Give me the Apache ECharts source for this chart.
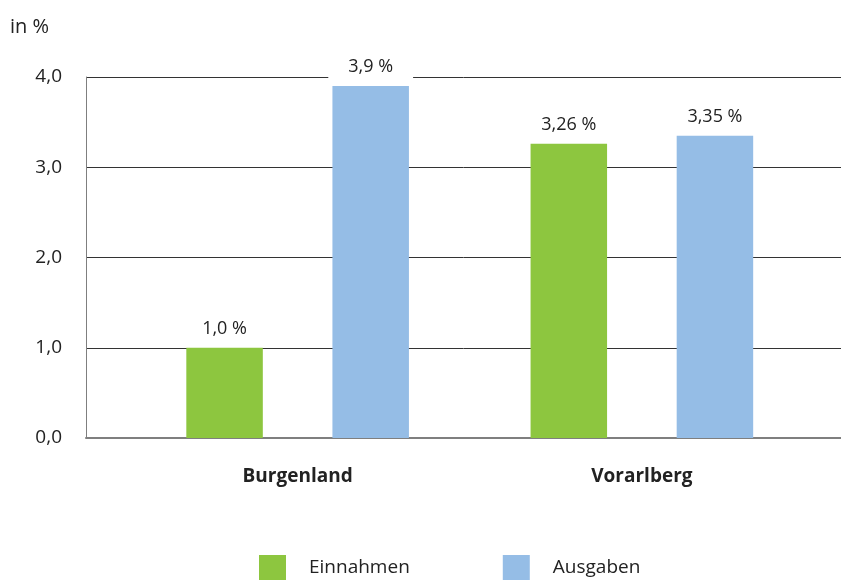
<!DOCTYPE html>
<html>
<head>
<meta charset="utf-8">
<script src="https://cdn.jsdelivr.net/npm/echarts@6/dist/echarts.min.js"></script>
<style>
  html, body { margin: 0; padding: 0; background: #fff; }
  #chart { width: 841px; height: 580px; }
</style>
</head>
<body>
<div id="chart"></div>
<script>
// data
const categories = ["Burgenland", "Vorarlberg"];
const einnahmen = [1.0, 3.26];
const ausgaben = [3.9, 3.35];
const seriesNames = ["Einnahmen", "Ausgaben"];
const yTicks = [0, 1, 2, 3, 4];

const fontFamily = "'Open Sans', 'DejaVu Sans', sans-serif";

function fmt(v) {
  const s = Number.isInteger(v * 10) ? v.toFixed(1) : String(v);
  return s.replace(".", ",");
}

const chart = echarts.init(document.getElementById("chart"));

const barLabel = {
  show: true,
  position: "top",
  distance: 8,
  color: "#222",
  fontSize: 18,
  fontFamily: fontFamily,
  backgroundColor: "#fff",
  padding: [2, 20],
  formatter: (p) => fmt(p.value) + " %",
};

const option = {
  animation: false,
  graphic: [
    {
      type: "text",
      left: 10,
      top: 17,
      style: { text: "in %", fontSize: 20, fontFamily: fontFamily, fill: "#222" },
    },
  ],
  legend: {
    data: seriesNames,
    left: 259,
    top: 555,
    padding: 0,
    icon: "rect",
    itemWidth: 27,
    itemHeight: 25,
    itemGap: 93,
    textStyle: { fontSize: 19, color: "#222", fontFamily: fontFamily, padding: [8, 0, 0, 18] },
  },
  grid: [
    { left: 86, right: 0, top: 77, bottom: 142 },
    { left: 125.5, right: 27, top: 77, bottom: 142 },
  ],
  xAxis: [
    {
      gridIndex: 0,
      type: "category",
      data: [""],
      axisLine: { show: true, lineStyle: { color: "#7f7f7f", width: 2 } },
      axisTick: { show: false },
      axisLabel: { show: false },
    },
    {
      gridIndex: 1,
      type: "category",
      data: categories,
      axisLine: { show: false },
      axisTick: { show: false },
      axisLabel: {
        margin: 29,
        fontSize: 19,
        fontWeight: "bold",
        color: "#222",
        fontFamily: fontFamily,
      },
    },
  ],
  yAxis: [
    {
      gridIndex: 0,
      type: "value",
      min: yTicks[0],
      max: yTicks[yTicks.length - 1],
      interval: 1,
      axisLine: { show: true, lineStyle: { color: "#7f7f7f", width: 1 } },
      axisTick: { show: false },
      splitLine: { show: true, lineStyle: { color: "#333", width: 1 } },
      axisLabel: {
        margin: 24,
        fontSize: 19,
        color: "#222",
        fontFamily: fontFamily,
        formatter: (v) => fmt(v),
      },
    },
    {
      gridIndex: 1,
      type: "value",
      min: yTicks[0],
      max: yTicks[yTicks.length - 1],
      interval: 1,
      show: false,
    },
  ],
  series: [
    {
      name: seriesNames[0],
      type: "bar",
      xAxisIndex: 1,
      yAxisIndex: 1,
      data: einnahmen,
      barWidth: 76.5,
      barGap: "91%",
      itemStyle: { color: "#8dc63f" },
      label: barLabel,
    },
    {
      name: seriesNames[1],
      type: "bar",
      xAxisIndex: 1,
      yAxisIndex: 1,
      data: ausgaben,
      barWidth: 76.5,
      barGap: "91%",
      itemStyle: { color: "#95bde6" },
      label: barLabel,
    },
  ],
};

chart.setOption(option);
</script>
</body>
</html>
